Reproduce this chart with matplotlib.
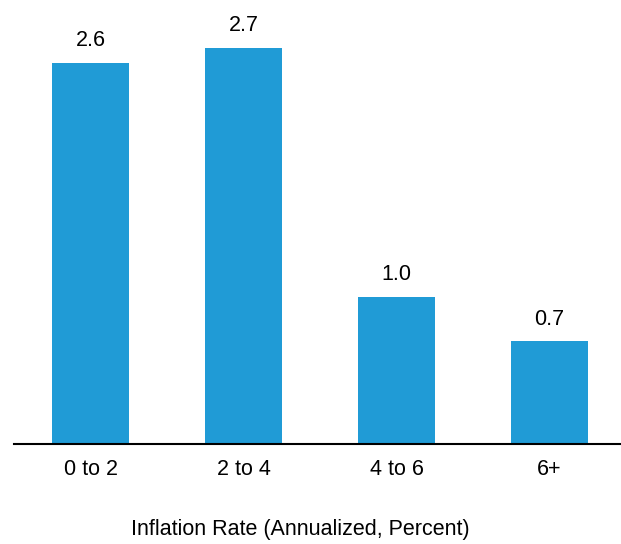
import matplotlib
matplotlib.use("Agg")
from matplotlib import pyplot as plt

plt.rcParams['font.family'] = ['Liberation Sans', 'DejaVu Sans']

categories = ["0 to 2", "2 to 4", "4 to 6", "6+"]
values = [2.6, 2.7, 1.0, 0.7]
xlabel = "Inflation Rate (Annualized, Percent)"
BAR_COLOR = "#209bd6"
FS = 15.5

fig = plt.figure(figsize=(6.21, 5.44), dpi=100)
ax = fig.add_axes([14 / 621, 100 / 544, 607 / 621, 436 / 544])

x = list(range(len(categories)))
bars = ax.bar(x, values, width=0.5, color=BAR_COLOR)

for b, v in zip(bars, values):
    ax.annotate(f"{v:.1f}", (b.get_x() + b.get_width() / 2, v),
                xytext=(0, 8.5), textcoords="offset points",
                ha="center", va="bottom", fontsize=FS)

ax.set_xlim(-0.5, 3.467)
ax.set_ylim(0, 2.972)
ax.set_xticks(x)
ax.set_xticklabels(categories, fontsize=FS)
ax.tick_params(axis="x", length=0, pad=11)
ax.set_yticks([])
for s in ["top", "right", "left"]:
    ax.spines[s].set_visible(False)
ax.spines["bottom"].set_linewidth(1.5)

fig.text(300 / 621, 15 / 544, xlabel, ha="center", va="center", fontsize=FS)

fig.savefig("out.png", dpi=100)
